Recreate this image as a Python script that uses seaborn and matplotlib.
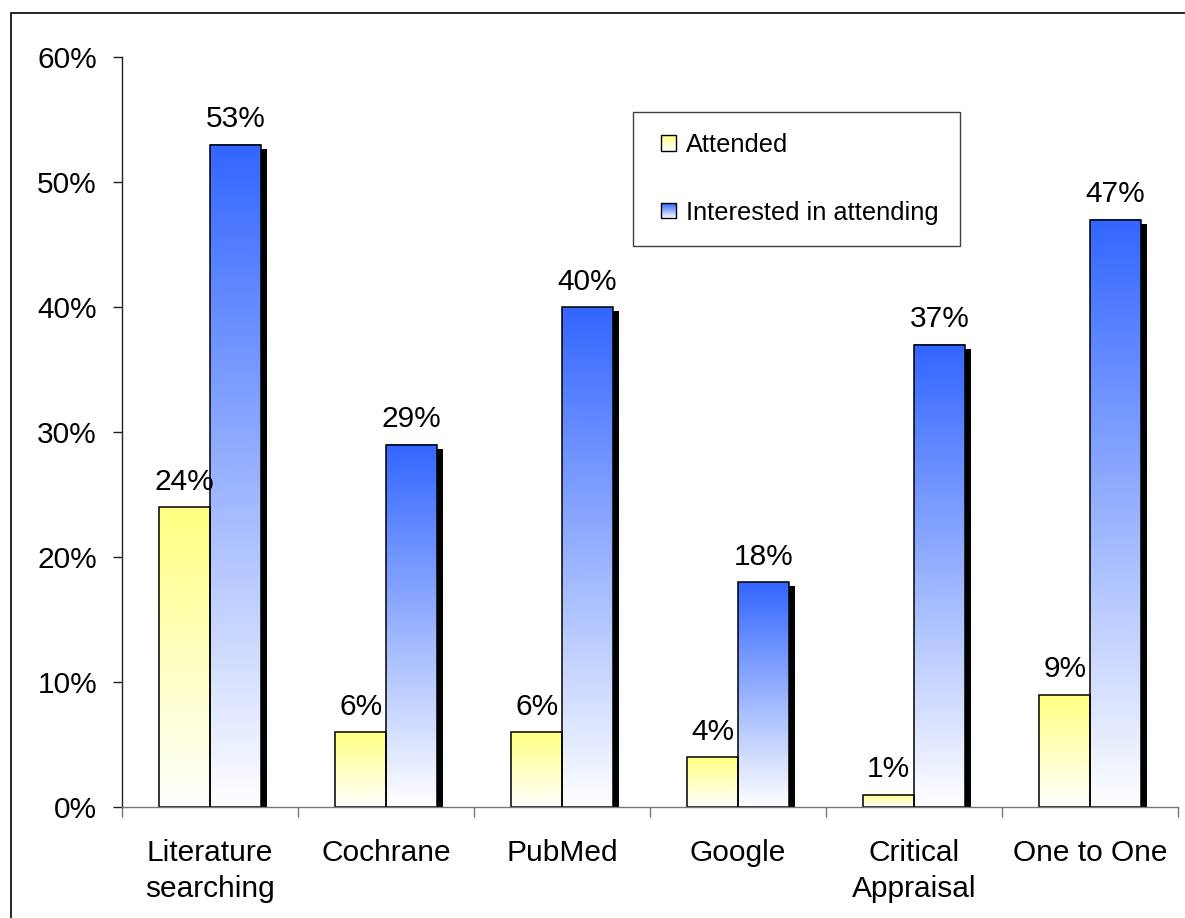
import numpy as np
import pandas as pd
import seaborn as sns
import matplotlib
matplotlib.use("Agg")
import matplotlib.pyplot as plt
from matplotlib.patches import Rectangle
from matplotlib.legend_handler import HandlerBase
from matplotlib.colors import to_rgb
from matplotlib.ticker import PercentFormatter, MultipleLocator
from matplotlib import transforms

# Survey results: share of respondents per training topic
categories = ["Literature\nsearching", "Cochrane", "PubMed", "Google",
              "Critical\nAppraisal", "One to One"]
series = ["Attended", "Interested in attending"]
attended = [24, 6, 6, 4, 1, 9]
interested = [53, 29, 40, 18, 37, 47]
colors = ["#FFFF80", "#3366FF"]

df = pd.DataFrame({
    "category": categories * 2,
    "series": [series[0]] * len(categories) + [series[1]] * len(categories),
    "value": attended + interested,
})

sns.set_style("white")
plt.rcParams["font.family"] = ["Liberation Sans", "DejaVu Sans"]

W, H = 1185, 918
fig = plt.figure(figsize=(W / 100, H / 100), dpi=100)
ax = fig.add_axes([122 / W, 1 - 807 / H, 1056 / W, 750 / H])

sns.barplot(data=df, x="category", y="value", hue="series",
            order=categories, hue_order=series, palette=colors,
            saturation=1, width=0.575, gap=0, errorbar=None,
            edgecolor="black", linewidth=1.1, legend=False, ax=ax)

FS = 21.5
white = np.ones(3)


def vertical_gradient(color, n=256):
    """Column of colours running from white (bottom) to `color` (top)."""
    t = np.linspace(0, 1, n)[:, None, None]
    return (1 - t) * white + t * np.array(to_rgb(color))


# Drop shadow: same bar geometry shifted 6 px right and 4 px down
shadow_trans = transforms.offset_copy(ax.transData, fig=fig, x=6, y=-4,
                                      units="dots")

# Replace flat fills with a per-bar gradient and add the drop shadow
for container, color in zip(ax.containers, colors):
    grad = vertical_gradient(color)
    for bar in container:
        x0, y0 = bar.get_x(), bar.get_y()
        w, h = bar.get_width(), bar.get_height()
        ax.imshow(grad, extent=(x0, x0 + w, y0, y0 + h), origin="lower",
                  aspect="auto", interpolation="bilinear", zorder=0.9)
        bar.set_facecolor("none")
        bar.set_zorder(1.0)
        ax.add_patch(Rectangle((x0, y0), w, h, transform=shadow_trans,
                               facecolor="black", edgecolor="none",
                               zorder=0.5))
    ax.bar_label(container, fmt="{:.0f}%", padding=8, fontsize=FS,
                 color="black", zorder=5)

ax.set_aspect("auto")
ax.set_xlim(-0.5, len(categories) - 0.5)
ax.set_ylim(0, 60)
ax.set_xlabel("")
ax.set_ylabel("")

# y axis: percent ticks
ax.yaxis.set_major_locator(MultipleLocator(10))
ax.yaxis.set_major_formatter(PercentFormatter(100, decimals=0))
ax.tick_params(axis="y", left=True, direction="out", length=6.5, width=1,
               color="#222222", pad=11.5, labelsize=FS, labelcolor="black")

# x axis: tick marks between categories, labels centred on the groups
bounds = np.arange(len(categories) + 1) - 0.5
ax.set_xticks(bounds, labels=[""] * len(bounds))
ax.set_xticks(np.arange(len(categories)), labels=categories, minor=True)
ax.tick_params(axis="x", which="major", bottom=True, direction="out",
               length=7, width=1, color="#777777")
ax.tick_params(axis="x", which="minor", bottom=True, length=0, pad=23,
               labelsize=FS, labelcolor="black")
for lbl in ax.get_xticklabels(minor=True):
    lbl.set_linespacing(1.35)

for side in ("top", "right"):
    ax.spines[side].set_visible(False)
ax.spines["left"].set_color("#222222")
ax.spines["bottom"].set_color("#777777")
ax.spines["left"].set_linewidth(1)
ax.spines["bottom"].set_linewidth(1)


class GradientSwatch(HandlerBase):
    """Legend key drawn as a small square with a vertical gradient,
    placed at the right end of the handle box."""

    def __init__(self, color, steps=24):
        super().__init__()
        self.color = np.array(to_rgb(color))
        self.steps = steps

    def create_artists(self, legend, orig_handle, xdescent, ydescent,
                       width, height, fontsize, trans):
        side = height
        x = -xdescent + width - side
        y = -ydescent
        arts = []
        for i in range(self.steps):
            t = i / (self.steps - 1)
            c = (1 - t) * white + t * self.color
            arts.append(Rectangle((x, y + i * side / self.steps),
                                  side, side / self.steps + 0.01,
                                  facecolor=c, edgecolor="none", transform=trans))
        arts.append(Rectangle((x, y), side, side, facecolor="none",
                              edgecolor="black", lw=1, transform=trans))
        return arts


handles = [Rectangle((0, 0), 1, 1) for _ in series]
leg = ax.legend(handles, series,
                handler_map={h: GradientSwatch(c) for h, c in zip(handles, colors)},
                loc="upper left", bbox_to_anchor=(633 / W, 1 - 112 / H),
                bbox_transform=fig.transFigure, borderaxespad=0,
                fontsize=18.3, frameon=True, fancybox=False, framealpha=1,
                edgecolor="#404040", handlelength=0.87, handleheight=0.55,
                handletextpad=0.39, labelspacing=1.72, borderpad=0.83)
leg.get_frame().set_linewidth(1.0)
for t in leg.get_texts():
    t.set_color("black")

# Outer border around the chart area
fig.add_artist(Rectangle((10.5 / W, -0.2), 1.2, 1.2 - 12.5 / H,
                         transform=fig.transFigure, fill=False,
                         edgecolor="black", linewidth=1.2))

fig.savefig("out.png", dpi=100, facecolor="white")
